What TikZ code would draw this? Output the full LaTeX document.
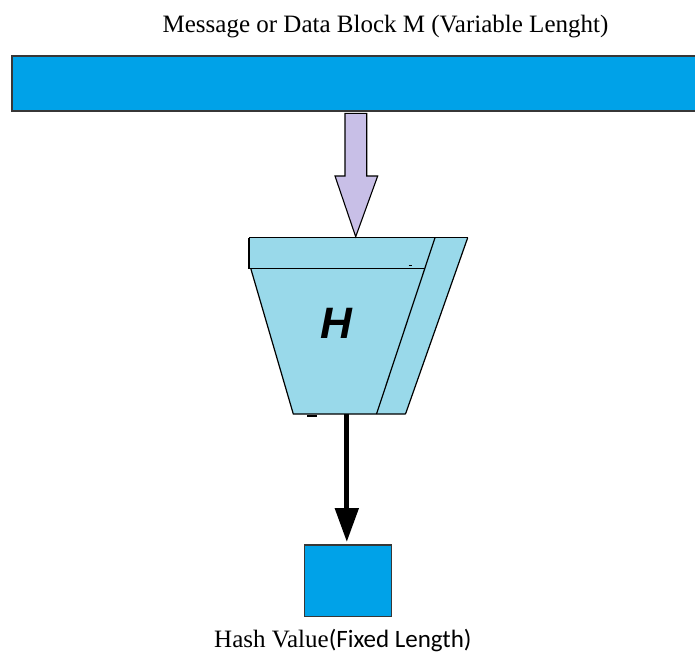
\documentclass[tikz,border=0pt]{standalone}
\usepackage{fontspec}
\setmainfont{Liberation Serif}
\newfontfamily\labelsans{Carlito}
\newfontfamily\hfont{Liberation Sans}
\usetikzlibrary{arrows.meta}

\definecolor{blockblue}{RGB}{0,162,232}
\definecolor{funcfill}{RGB}{153,217,234}
\definecolor{lavender}{RGB}{200,191,231}
\definecolor{edgegray}{RGB}{55,55,55}

\begin{document}
\begin{tikzpicture}[x=1pt,y=-1pt,
  blockbox/.style={draw=edgegray, line width=1.6pt, fill=blockblue, inner sep=0pt},
  funcline/.style={draw=black, line width=1.2pt},
  caption/.style={font=\fontsize{25}{30}\selectfont, inner sep=0pt, anchor=base}]

\useasboundingbox (0,0) rectangle (695,653);

% title
\node[caption] (title) at (385.5,32) {Message or Data Block M (Variable Lenght)};

% message block (runs off the right edge)
\node[blockbox, anchor=north west, minimum width=690pt, minimum height=54.7pt] (msg) at (11.3,55.3) {};

% hash function H
\coordinate (tl)  at (249,237.7);
\coordinate (tr)  at (467.7,237.7);
\coordinate (ti)  at (435,237.7);
\coordinate (ml)  at (249,268.3);
\coordinate (mr)  at (424.8,268.3);
\coordinate (sl)  at (250.7,268.3);
\coordinate (bl)  at (293.3,414);
\coordinate (bi)  at (376.5,414);
\coordinate (br)  at (405.5,414);
\fill[funcfill] (tl) -- (tr) -- (br) -- (bl) -- (sl) -- (ml) -- cycle;
\draw[funcline] (tl) -- (tr);
\draw[funcline] (tl) -- (ml) -- (mr);
\draw[funcline] (sl) -- (bl) -- (br);
\draw[funcline] (ti) -- (bi);
\draw[funcline] (tr) -- (br);
\draw[black, line width=1pt] (408.5,265.7) -- (412,265.7);
\draw[black, line width=2pt] (307,415.5) -- (317,415.5);
\node[font=\hfont\bfseries\itshape\fontsize{44}{50}\selectfont, inner sep=0pt] (hfun) at (336,323) {H};

% input arrow
\coordinate (inA) at (345,113.3);
\coordinate (inB) at (366.7,113.3);
\coordinate (inTip) at (355.7,236.7);
\draw[black, line width=1.1pt, fill=lavender, line join=miter]
  (inA) -- (inB) -- (366.7,176) -- (377.7,176) -- (inTip) -- (335,176) -- (345,176) -- cycle;

% hash value block
\node[blockbox, line width=1.3pt, minimum width=87.4pt, minimum height=71.7pt] (hash) at (348,580.8) {};

% output arrow
\coordinate (outS) at (346.8,414);
\coordinate (outE) at (346.8,542);
\draw[black, line width=5pt, -{Triangle[length=34pt, width=23pt]}] (outS) -- (outE);

% caption below the hash value
\node[caption, anchor=base west] (hcap) at (214,647) {Hash Value{\labelsans(Fixed Length)}};

\end{tikzpicture}
\end{document}
